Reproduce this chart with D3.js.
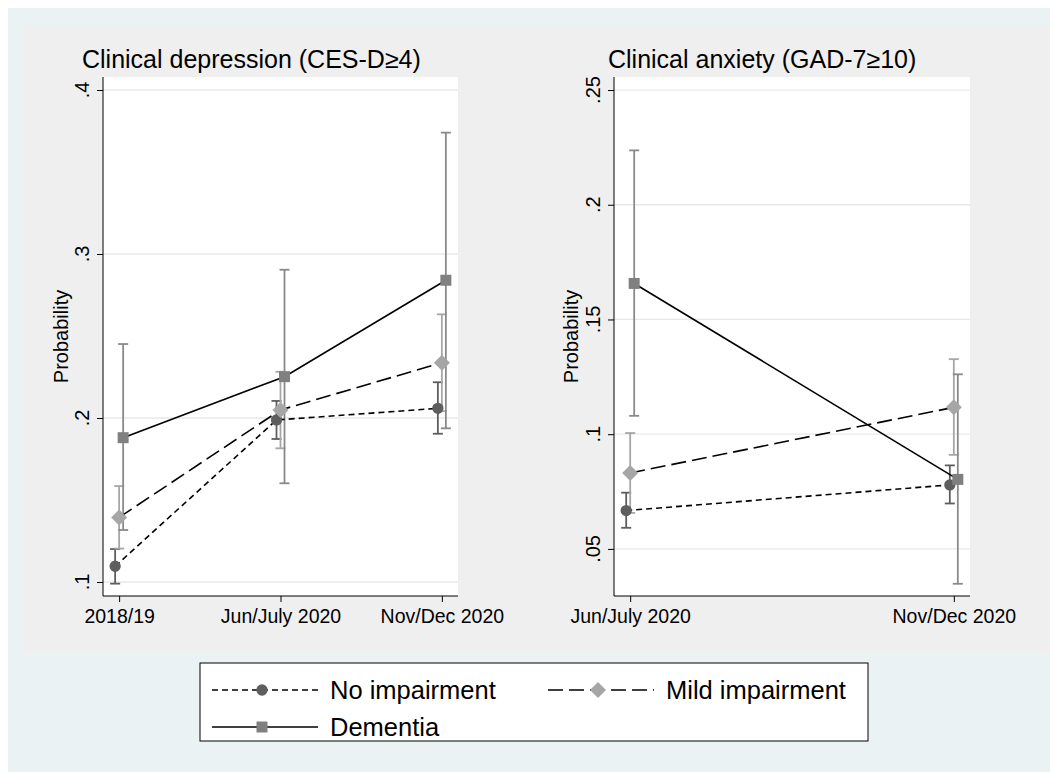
<!DOCTYPE html>
<html>
<head>
<meta charset="utf-8" />
<title>Depression and anxiety by cognitive status</title>
<style>
  body { margin: 0; background: #eaf2f3; }
  svg { display: block; font-family: "Liberation Sans", Arial, Helvetica, sans-serif; }
</style>
</head>
<body>
<script src="https://cdn.jsdelivr.net/npm/d3@7"></script>
<script>
// categories per panel
var depWaves = ["2018/19", "Jun/July 2020", "Nov/Dec 2020"];
var anxWaves = ["Jun/July 2020", "Nov/Dec 2020"];

var seriesNames = ["No impairment", "Mild impairment", "Dementia"];

// depression: estimate, lower, upper
var depNone  = [0.1096, 0.1988, 0.2059];
var depNoneLo = [0.0990, 0.1872, 0.1904];
var depNoneHi = [0.1201, 0.2104, 0.2218];
var depMild  = [0.1394, 0.2049, 0.2337];
var depMildLo = [0.1204, 0.1815, 0.2042];
var depMildHi = [0.1585, 0.2282, 0.2632];
var depDem   = [0.1880, 0.2252, 0.2840];
var depDemLo  = [0.1317, 0.1602, 0.1937];
var depDemHi  = [0.2451, 0.2904, 0.3740];

// anxiety
var anxNone  = [0.0667, 0.0779];
var anxNoneLo = [0.0592, 0.0698];
var anxNoneHi = [0.0745, 0.0864];
var anxMild  = [0.0831, 0.1117];
var anxMildLo = [0.0657, 0.0910];
var anxMildHi = [0.1005, 0.1327];
var anxDem   = [0.1657, 0.0803];
var anxDemLo  = [0.1080, 0.0348];
var anxDemHi  = [0.2237, 0.1261];

var depTicks = [0.1, 0.2, 0.3, 0.4];
var anxTicks = [0.05, 0.1, 0.15, 0.2, 0.25];

var width = 1050, height = 772;

var styles = [
  { marker: "circle",  fill: "#5e5e5e", ci: "#5e5e5e", dash: "6,4" },
  { marker: "diamond", fill: "#a6a6a6", ci: "#a6a6a6", dash: "15,6" },
  { marker: "square",  fill: "#808080", ci: "#8a8a8a", dash: null }
];
var offsets = [-4, 0, 4];

var svg = d3.select("body").append("svg")
    .attr("width", width)
    .attr("height", height);

svg.append("rect").attr("x", 0).attr("y", 0).attr("width", width).attr("height", height).attr("fill", "#ffffff");
svg.append("rect").attr("x", 8).attr("y", 8).attr("width", width - 8).attr("height", height - 8).attr("fill", "#eaf2f3");
svg.append("rect").attr("x", 24).attr("y", 25).attr("width", width - 24).attr("height", 628).attr("fill", "#efefef");

function fmt(v){
  return d3.format(".2~f")(v).replace(/^0/, "");
}

function symbolPath(kind){
  if (kind === "circle") return d3.symbol().type(d3.symbolCircle).size(100)();
  if (kind === "diamond") return "M0,-8L8,0L0,8L-8,0Z";
  return "M-5.5,-5.5H5.5V5.5H-5.5Z";
}

function panel(opts){
  var left = opts.left, right = opts.right, top = 77, bottom = 596;
  var x = d3.scalePoint().domain(opts.cats).range([left, right]).padding(opts.pad);
  var y = d3.scaleLinear().domain(opts.ydom).range([bottom, top]);
  var g = svg.append("g");

  g.append("rect").attr("x", left).attr("y", top)
    .attr("width", right - left).attr("height", bottom - top)
    .attr("fill", "#ffffff");

  // grid
  g.selectAll("line.grid").data(opts.ticks).enter().append("line")
    .attr("class", "grid")
    .attr("x1", left).attr("x2", right)
    .attr("y1", function(d){ return y(d); }).attr("y2", function(d){ return y(d); })
    .attr("stroke", "#e8e8e8").attr("stroke-width", 1.3);

  // y axis
  var yAxis = d3.axisLeft(y).tickValues(opts.ticks).tickSize(6).tickFormat("");
  var ya = g.append("g").attr("transform", "translate(" + left + ",0)").call(yAxis);
  ya.select(".domain").attr("d", "M0," + top + "V" + bottom).attr("stroke", "#000");
  ya.selectAll(".tick line").attr("stroke", "#000");
  g.selectAll("text.ytick").data(opts.ticks).enter().append("text")
    .attr("class", "ytick")
    .attr("transform", function(d){ return "translate(" + (left - 14) + "," + y(d) + ") rotate(-90)"; })
    .attr("text-anchor", "middle")
    .attr("font-size", 20)
    .text(fmt);

  // x axis
  var xAxis = d3.axisBottom(x).tickSize(6).tickPadding(7);
  var xa = g.append("g").attr("transform", "translate(0," + bottom + ")").call(xAxis);
  xa.select(".domain").attr("d", "M" + left + ",0H" + right).attr("stroke", "#000");
  xa.selectAll(".tick line").attr("stroke", "#000");
  xa.selectAll(".tick text").attr("font-size", 19.5).attr("fill", "#000")
    .attr("font-family", "Liberation Sans, Arial, sans-serif");

  // title and label
  g.append("text").attr("x", opts.titleX).attr("y", 68)
    .attr("font-size", 25).attr("fill", "#000").text(opts.title);
  g.append("text")
    .attr("transform", "translate(" + opts.labelX + "," + ((top + bottom) / 2) + ") rotate(-90)")
    .attr("text-anchor", "middle").attr("font-size", 20).text("Probability");

  var cap = 5;
  // confidence intervals
  opts.series.forEach(function(s, i){
    var st = styles[i];
    var pts = opts.cats.map(function(c, j){ return { c: c, lo: s.lo[j], hi: s.hi[j] }; });
    var ci = g.append("g").attr("stroke", st.ci).attr("stroke-width", 1.8);
    pts.forEach(function(p){
      var cx = x(p.c) + offsets[i];
      ci.append("line").attr("x1", cx).attr("x2", cx).attr("y1", y(p.lo)).attr("y2", y(p.hi));
      ci.append("line").attr("x1", cx - cap).attr("x2", cx + cap).attr("y1", y(p.lo)).attr("y2", y(p.lo));
      ci.append("line").attr("x1", cx - cap).attr("x2", cx + cap).attr("y1", y(p.hi)).attr("y2", y(p.hi));
    });
  });

  // lines
  opts.series.forEach(function(s, i){
    var st = styles[i];
    var line = d3.line()
      .x(function(d, j){ return x(opts.cats[j]) + offsets[i]; })
      .y(function(d){ return y(d); });
    g.append("path").attr("d", line(s.est))
      .attr("fill", "none").attr("stroke", "#000").attr("stroke-width", 1.6)
      .attr("stroke-dasharray", st.dash);
  });

  // markers
  opts.series.forEach(function(s, i){
    var st = styles[i];
    g.selectAll("path.m" + i).data(s.est).enter().append("path")
      .attr("class", "m" + i)
      .attr("transform", function(d, j){ return "translate(" + (x(opts.cats[j]) + offsets[i]) + "," + y(d) + ")"; })
      .attr("d", symbolPath(st.marker))
      .attr("fill", st.fill);
  });
}

panel({
  left: 103, right: 458, cats: depWaves, pad: 0.1,
  ydom: [0.1 - 14 / 1640, 0.4 + 13 / 1640], ticks: depTicks,
  title: "Clinical depression (CES-D\u22654)", titleX: 82, labelX: 68,
  series: [
    { est: depNone, lo: depNoneLo, hi: depNoneHi },
    { est: depMild, lo: depMildLo, hi: depMildHi },
    { est: depDem,  lo: depDemLo,  hi: depDemHi }
  ]
});

panel({
  left: 614, right: 970, cats: anxWaves, pad: 0.05,
  ydom: [0.05 - 47 / 2290, 0.25 + 13 / 2290], ticks: anxTicks,
  title: "Clinical anxiety (GAD-7\u226510)", titleX: 608, labelX: 578,
  series: [
    { est: anxNone, lo: anxNoneLo, hi: anxNoneHi },
    { est: anxMild, lo: anxMildLo, hi: anxMildHi },
    { est: anxDem,  lo: anxDemLo,  hi: anxDemHi }
  ]
});

// legend
var lg = svg.append("g");
lg.append("rect").attr("x", 200).attr("y", 663).attr("width", 668).attr("height", 78)
  .attr("fill", "#ffffff").attr("stroke", "#000").attr("stroke-width", 1);
var legPos = [
  { x: 212, y: 690 },
  { x: 548, y: 690 },
  { x: 212, y: 727 }
];
seriesNames.forEach(function(name, i){
  var p = legPos[i], st = styles[i];
  lg.append("line").attr("x1", p.x).attr("x2", p.x + 106).attr("y1", p.y).attr("y2", p.y)
    .attr("stroke", "#000").attr("stroke-width", 1.6).attr("stroke-dasharray", st.dash);
  lg.append("path").attr("transform", "translate(" + (p.x + 50) + "," + p.y + ")")
    .attr("d", symbolPath(st.marker)).attr("fill", st.fill);
  lg.append("text").attr("x", p.x + 118).attr("y", p.y + 9)
    .attr("font-size", 25.5).attr("fill", "#000").text(name);
});
</script>
</body>
</html>
